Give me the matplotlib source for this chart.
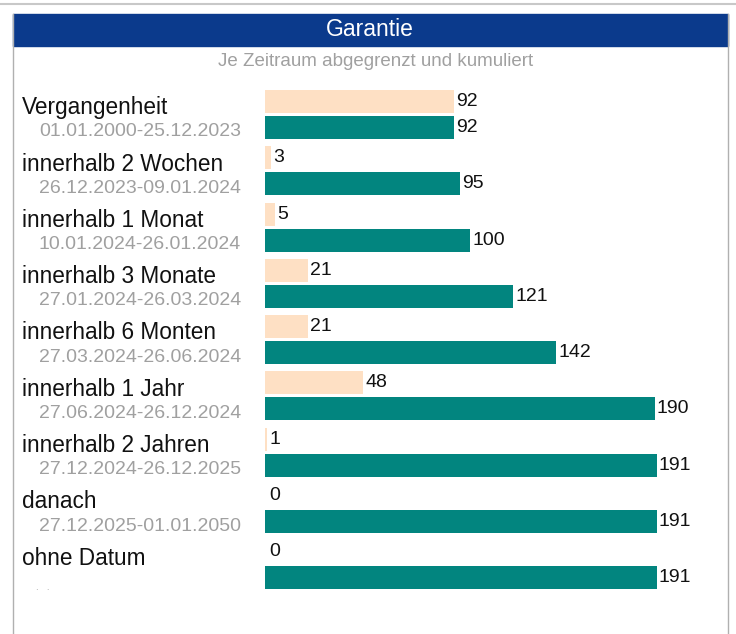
import matplotlib.pyplot as plt
from matplotlib.patches import Rectangle
from matplotlib.lines import Line2D
from matplotlib.transforms import blended_transform_factory

categories = ['Vergangenheit', 'innerhalb 2 Wochen', 'innerhalb 1 Monat',
              'innerhalb 3 Monate', 'innerhalb 6 Monten', 'innerhalb 1 Jahr',
              'innerhalb 2 Jahren', 'danach', 'ohne Datum']
periods = ['01.01.2000-25.12.2023', '26.12.2023-09.01.2024', '10.01.2024-26.01.2024',
           '27.01.2024-26.03.2024', '27.03.2024-26.06.2024', '27.06.2024-26.12.2024',
           '27.12.2024-26.12.2025', '27.12.2025-01.01.2050', '.   .']
per_period = [92, 3, 5, 21, 21, 48, 1, 0, 0]
cumulative = [92, 95, 100, 121, 142, 190, 191, 191, 191]

W, H = 736, 634
blue = '#0b3a8c'
peach = '#fee0c4'
teal = '#02857f'
grey = '#a0a0a0'
plt.rcParams['font.family'] = ['Liberation Sans', 'DejaVu Sans']

fig = plt.figure(figsize=(W / 100, H / 100), dpi=100)
fig.patch.set_facecolor('white')


def fx(px):
    return px / W


def fy(py):
    return 1 - py / H


# page frame: top rule, box borders, header band
fig.add_artist(Line2D([0, 1], [fy(4), fy(4)], color='#c8c8c8', lw=1.5))
fig.add_artist(Line2D([fx(13), fx(13)], [fy(14), 0], color='#b0b0b0', lw=1))
fig.add_artist(Line2D([fx(728), fx(728)], [fy(14), 0], color='#b0b0b0', lw=1))
fig.add_artist(Rectangle((fx(13), fy(46)), fx(715), (46 - 14) / H,
                         color=blue, transform=fig.transFigure))
fig.text(fx(370), fy(30), 'Garantie', color='white', fontsize=16.5,
         ha='center', va='center')
fig.text(fx(376), fy(62), 'Je Zeitraum abgegrenzt und kumuliert', color=grey,
         fontsize=13.5, ha='center', va='center')

# bar area: 2.052 px per unit, rows 56.3 px apart
scale = 2.052
row = 56.3
ax = fig.add_axes([fx(265), 0, fx(728 - 265), fy(46)])
ax.set_xlim(0, (728 - 265) / scale)
top = -(114.5 - 46) / row
ax.set_ylim(top + (H - 46) / row, top)
ax.axis('off')

off = 13 / row
h = 23 / row
ys = list(range(len(categories)))
ax.barh([y - off for y in ys], per_period, height=h, color=peach)
ax.barh([y + off for y in ys], cumulative, height=h, color=teal)

pad = 2 / scale
for y, a, c in zip(ys, per_period, cumulative):
    ax.text(a + pad + (2 / scale if a == 0 else 0), y - off, str(a),
            fontsize=14, va='center', ha='left', color='#111111')
    ax.text(c + pad, y + off, str(c), fontsize=14, va='center', ha='left',
            color='#111111')

tr = blended_transform_factory(fig.transFigure, ax.transData)
for y, name, per in zip(ys, categories, periods):
    ax.text(fx(22), y - 0.12, name, transform=tr, fontsize=16.3,
            ha='left', va='center', color='#111111')
    if per.startswith('.'):
        ax.text(fx(36), y + 0.4, per, transform=tr, fontsize=7,
                ha='left', va='center', color=grey)
    else:
        ax.text(fx(241), y + 0.31, per, transform=tr, fontsize=14,
                ha='right', va='center', color=grey)

fig.savefig('out.png', dpi=100)
